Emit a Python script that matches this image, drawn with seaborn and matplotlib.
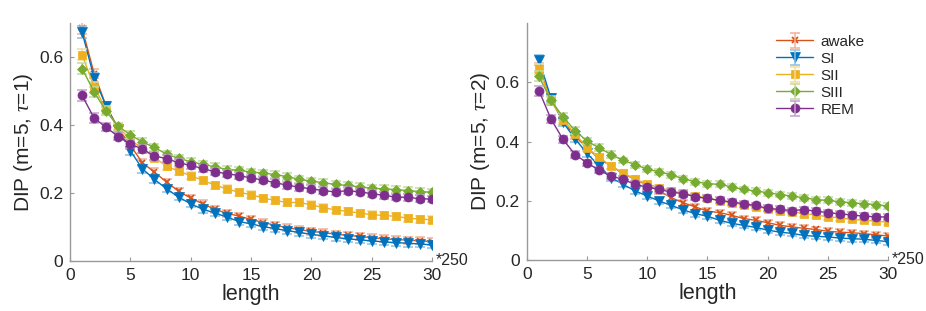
import numpy as np
import pandas as pd
import matplotlib
matplotlib.use('Agg')
import matplotlib.pyplot as plt
import seaborn as sns
from matplotlib.colors import to_rgb
from matplotlib.legend_handler import HandlerTuple

# Data
length = list(range(1, 31))
states = ['awake', 'SI', 'SII', 'SIII', 'REM']

tau1_awake = [0.685, 0.551, 0.455, 0.390, 0.340, 0.289, 0.261, 0.232, 0.205, 0.185,
              0.168, 0.152, 0.140, 0.132, 0.122, 0.113, 0.105, 0.098, 0.092, 0.087,
              0.083, 0.079, 0.075, 0.072, 0.068, 0.065, 0.063, 0.061, 0.059, 0.057]
tau1_si = [0.673, 0.539, 0.455, 0.388, 0.324, 0.271, 0.240, 0.212, 0.188, 0.168,
           0.152, 0.141, 0.129, 0.116, 0.109, 0.101, 0.095, 0.089, 0.084, 0.078,
           0.074, 0.069, 0.065, 0.062, 0.059, 0.056, 0.054, 0.052, 0.050, 0.047]
tau1_sii = [0.607, 0.512, 0.445, 0.393, 0.358, 0.329, 0.304, 0.279, 0.264, 0.251,
            0.237, 0.223, 0.212, 0.202, 0.195, 0.185, 0.178, 0.172, 0.172, 0.165,
            0.157, 0.150, 0.146, 0.141, 0.136, 0.134, 0.131, 0.126, 0.123, 0.121]
tau1_siii = [0.566, 0.497, 0.440, 0.396, 0.371, 0.350, 0.334, 0.314, 0.302, 0.292,
             0.284, 0.277, 0.269, 0.267, 0.261, 0.259, 0.254, 0.248, 0.240, 0.235,
             0.230, 0.225, 0.222, 0.218, 0.214, 0.212, 0.210, 0.207, 0.204, 0.202]
tau1_rem = [0.487, 0.420, 0.393, 0.366, 0.344, 0.329, 0.309, 0.301, 0.289, 0.281,
            0.272, 0.262, 0.257, 0.251, 0.244, 0.238, 0.230, 0.223, 0.217, 0.212,
            0.207, 0.203, 0.207, 0.203, 0.198, 0.193, 0.188, 0.187, 0.183, 0.182]

tau2_awake = [0.648, 0.542, 0.469, 0.418, 0.379, 0.342, 0.317, 0.292, 0.272, 0.253,
              0.233, 0.210, 0.193, 0.179, 0.165, 0.160, 0.151, 0.140, 0.134, 0.126,
              0.117, 0.112, 0.107, 0.103, 0.097, 0.094, 0.092, 0.089, 0.085, 0.081]
tau2_si = [0.676, 0.547, 0.465, 0.409, 0.360, 0.317, 0.278, 0.255, 0.233, 0.216,
           0.199, 0.184, 0.169, 0.156, 0.148, 0.134, 0.124, 0.117, 0.110, 0.101,
           0.094, 0.090, 0.083, 0.080, 0.078, 0.074, 0.072, 0.070, 0.066, 0.062]
tau2_sii = [0.645, 0.536, 0.474, 0.426, 0.379, 0.347, 0.317, 0.294, 0.272, 0.257,
            0.244, 0.233, 0.225, 0.216, 0.210, 0.199, 0.193, 0.187, 0.180, 0.173,
            0.166, 0.163, 0.156, 0.152, 0.146, 0.142, 0.137, 0.134, 0.131, 0.128]
tau2_siii = [0.620, 0.539, 0.483, 0.437, 0.401, 0.379, 0.356, 0.336, 0.322, 0.306,
             0.298, 0.287, 0.274, 0.264, 0.258, 0.255, 0.247, 0.238, 0.233, 0.227,
             0.221, 0.216, 0.210, 0.204, 0.201, 0.197, 0.193, 0.190, 0.187, 0.182]
tau2_rem = [0.572, 0.476, 0.407, 0.356, 0.328, 0.303, 0.283, 0.272, 0.255, 0.246,
            0.238, 0.229, 0.224, 0.213, 0.208, 0.201, 0.196, 0.190, 0.184, 0.174,
            0.171, 0.167, 0.170, 0.165, 0.160, 0.156, 0.152, 0.148, 0.146, 0.145]

# standard errors (approximate, from bar heights)
err = [0.017, 0.014, 0.012, 0.011, 0.011, 0.011, 0.011, 0.010, 0.010, 0.010,
       0.010, 0.010, 0.010, 0.010, 0.010, 0.010, 0.010, 0.010, 0.010, 0.010,
       0.010, 0.010, 0.010, 0.010, 0.010, 0.010, 0.010, 0.010, 0.010, 0.010]

colors = ['#D95319', '#0072BD', '#EDB120', '#77AC30', '#7E2F8E']
markers = ['x', 'v', 's', 'D', 'o']
msizes = [4.5, 7, 5.5, 5, 6.5]

panels = [
    ([tau1_awake, tau1_si, tau1_sii, tau1_siii, tau1_rem], 1, 0.7),
    ([tau2_awake, tau2_si, tau2_sii, tau2_siii, tau2_rem], 2, 0.8),
]


def lighten(c, f=0.55):
    r, g, b = to_rgb(c)
    return (r + (1 - r) * f, g + (1 - g) * f, b + (1 - b) * f)


sns.set_style('ticks')
plt.rcParams['font.family'] = ['Liberation Sans', 'DejaVu Sans']
plt.rcParams['mathtext.fontset'] = 'custom'
plt.rcParams['mathtext.it'] = 'Liberation Serif:italic'

fig = plt.figure(figsize=(9.26, 3.11), dpi=100)
ax1 = fig.add_axes([0.0756, 0.161, 0.391, 0.765])
ax2 = fig.add_axes([0.569, 0.164, 0.390, 0.762])

for ax, (series, tau, ytop) in zip([ax1, ax2], panels):
    handles = []
    for name, vals, c, m, ms in zip(states, series, colors, markers, msizes):
        df = pd.DataFrame({'length': length, 'DIP': vals})
        eb = ax.errorbar(df['length'], df['DIP'], yerr=err, fmt='none',
                         ecolor=lighten(c), elinewidth=1.1, capsize=3.5, capthick=1.1)
        sns.lineplot(data=df, x='length', y='DIP', ax=ax, color=c, marker=m,
                     markersize=ms, markeredgecolor=c,
                     markeredgewidth=1.3 if m == 'x' else 0.5,
                     linewidth=1.0, legend=False)
        handles.append((ax.lines[-1], eb))
    ax.set_xlim(0, 30)
    ax.set_ylim(0, ytop)
    ax.set_xticks([0, 5, 10, 15, 20, 25, 30])
    ax.set_yticks([0, 0.2, 0.4, 0.6])
    ax.set_yticklabels(['0', '0.2', '0.4', '0.6'])
    ax.set_xlabel('length', fontsize=15.5, color='#262626', labelpad=1)
    ax.set_ylabel(r'DIP (m=5, $\tau$=%d)' % tau, fontsize=15, color='#262626', labelpad=3)
    ax.tick_params(direction='in', length=3, labelsize=12.5, colors='#999999',
                   labelcolor='#262626', pad=5)
    sns.despine(ax=ax)
    for s in ['left', 'bottom']:
        ax.spines[s].set_color('#999999')
        ax.spines[s].set_linewidth(1.0)
    ax.text(1.01, 0.0, '*250', transform=ax.transAxes, fontsize=11.5,
            color='#262626', ha='left', va='center')

ax2.legend(handles, states, handler_map={tuple: HandlerTuple(ndivide=1)},
           loc='upper left', bbox_to_anchor=(0.665, 0.99), frameon=False,
           fontsize=11, handlelength=2.4, handletextpad=0.5, labelspacing=0.2,
           borderpad=0.1)

fig.savefig('out.png', dpi=100)
